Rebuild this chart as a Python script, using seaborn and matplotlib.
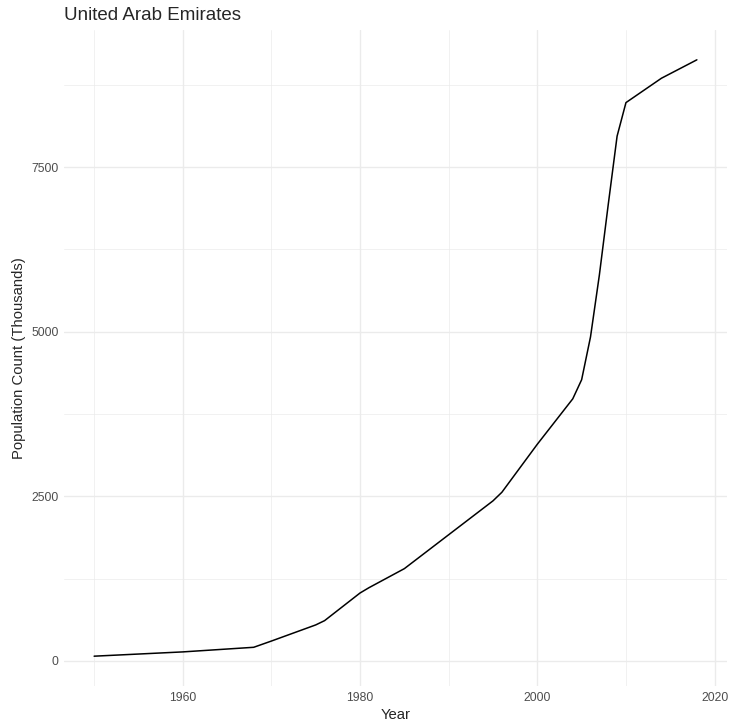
import matplotlib
matplotlib.use("Agg")
import matplotlib.pyplot as plt
import pandas as pd
import seaborn as sns
from matplotlib.ticker import MultipleLocator

# Population of the UAE (thousands)
years = [1950, 1960, 1968, 1970, 1975, 1976, 1980, 1981, 1985, 1995, 1996,
         2000, 2004, 2005, 2006, 2007, 2008, 2009, 2010, 2014, 2018]
population = [70, 135, 205, 300, 545, 610, 1030, 1110, 1400, 2430, 2560,
              3290, 3980, 4270, 4920, 5860, 6930, 7970, 8480, 8850, 9130]

df = pd.DataFrame({"Year": years, "Population": population})

sns.set_style("white")
plt.rcParams['font.family'] = ['Liberation Sans', 'DejaVu Sans']

fig = plt.figure(figsize=(7.34, 7.28), dpi=100)
ax = fig.add_axes([64 / 734, 1 - 686 / 728, (727 - 64) / 734, (686 - 30) / 728])

sns.lineplot(data=df, x="Year", y="Population", ax=ax, color="black", linewidth=1.1)

# ggplot-like expansion of the limits
xpad = (max(years) - min(years)) * 0.05
ypad = (max(population) - min(population)) * 0.05
ax.set_xlim(min(years) - xpad, max(years) + xpad)
ax.set_ylim(min(population) - ypad, max(population) + ypad)

ax.xaxis.set_major_locator(MultipleLocator(20))
ax.xaxis.set_minor_locator(MultipleLocator(10))
ax.yaxis.set_major_locator(MultipleLocator(2500))
ax.yaxis.set_minor_locator(MultipleLocator(1250))

ax.grid(which="major", color="#ebebeb", linewidth=1.0)
ax.grid(which="minor", color="#ebebeb", linewidth=0.5)
ax.set_axisbelow(True)
for s in ax.spines.values():
    s.set_visible(False)

ax.tick_params(which="both", length=0, labelsize=8.7, labelcolor="#4d4d4d", pad=4)
ax.set_xlabel("Year", fontsize=10.7, labelpad=3)
ax.set_ylabel("Population Count (Thousands)", fontsize=10.7, labelpad=4)
ax.set_title("United Arab Emirates", loc="left", fontsize=13.5, pad=7)

plt.savefig("out.png", dpi=100)
